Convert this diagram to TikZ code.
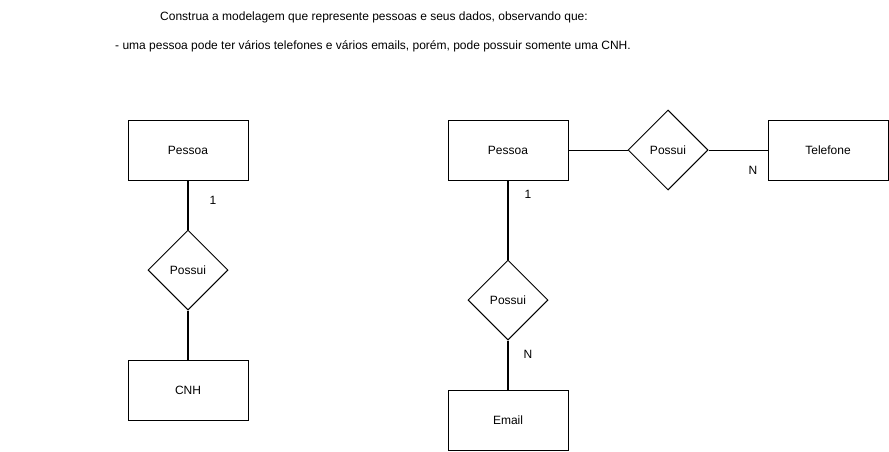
\documentclass[tikz,border=0pt]{standalone}
\usepackage{fontspec}
\setmainfont{Liberation Sans}
\usetikzlibrary{shapes.geometric}
\begin{document}
\begin{tikzpicture}[x=1pt,y=-1pt,
  ent/.style={draw,line width=1pt,minimum width=120pt,minimum height=60pt,inner sep=0pt,font=\fontsize{12}{14}\selectfont},
  rel/.style={draw,diamond,line width=1pt,minimum width=80pt,minimum height=80pt,inner sep=0pt,font=\fontsize{12}{14}\selectfont},
  thin/.style={line width=1pt},
  thick2/.style={line width=2.5pt},
  lbl/.style={font=\fontsize{12}{14}\selectfont,inner sep=0pt},
  txt/.style={font=\fontsize{12}{14}\selectfont,inner sep=0pt}]
\useasboundingbox (0,0) rectangle (889,451);
\node[txt] (t1) at (374,17) {Construa a modelagem que represente pessoas e seus dados, observando que:};
\node[txt,anchor=west] (t2) at (115,46) {- uma pessoa pode ter vários telefones e vários emails, porém, pode possuir somente uma CNH.};
% left
\node[ent] (p1) at (188,150) {Pessoa};
\node[rel] (r1) at (188,270) {Possui};
\node[ent] (cnh) at (188,390) {CNH};
\draw[thick2] (p1.south) -- (r1.north);
\draw[thick2] (r1.south) -- (cnh.north);
\node[lbl] (l1) at (213,200) {1};
% right
\node[ent] (p2) at (508,150) {Pessoa};
\node[rel] (r2) at (668,150) {Possui};
\node[ent] (tel) at (828,150) {Telefone};
\node[rel] (r3) at (508,300) {Possui};
\node[ent] (em) at (508,420) {Email};
\draw[thin] (p2.east) -- (r2.west);
\draw[thin] (r2.east) -- (tel.west);
\draw[thick2] (p2.south) -- (r3.north);
\draw[thick2] (r3.south) -- (em.north);
\node[lbl] (l2) at (753,170) {N};
\node[lbl] (l3) at (528,194) {1};
\node[lbl] (l4) at (528,354) {N};
\end{tikzpicture}
\end{document}
